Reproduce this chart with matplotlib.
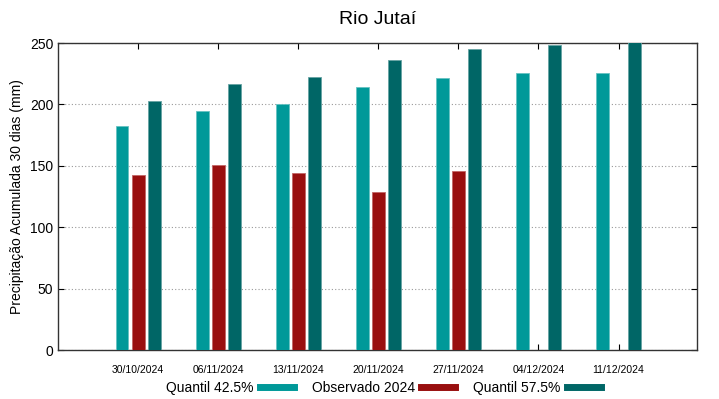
import numpy as np
import matplotlib.pyplot as plt
import matplotlib.transforms as mtransforms
from matplotlib.lines import Line2D

plt.rcParams['font.family'] = ['Liberation Sans', 'DejaVu Sans']

datas = ['30/10/2024', '06/11/2024', '13/11/2024', '20/11/2024',
         '27/11/2024', '04/12/2024', '11/12/2024']
q425 = [182.5, 194.5, 200.5, 214, 221.5, 225.5, 225.5]
observado = [142.5, 151, 144, 128.5, 146, np.nan, np.nan]
q575 = [203, 216.5, 222.5, 236, 245, 248.5, 252]

cor_q425 = '#009999'
cor_obs = '#990f0f'
cor_q575 = '#006666'

x = np.arange(len(datas))
w = 0.16

fig = plt.figure(figsize=(7.19, 3.99), dpi=100)
ax = fig.add_axes([0.0807, 0.1228, 0.8887, 0.7694])

ax.bar(x - 0.2, q425, w, color=cor_q425, edgecolor='#66c2c2', linewidth=0.6, zorder=3)
ax.bar(x, observado, w, color=cor_obs, edgecolor='#c26666', linewidth=0.6, zorder=3)
ax.bar(x + 0.2, q575, w, color=cor_q575, edgecolor='#66a3a3', linewidth=0.6, zorder=3)

ax.set_xlim(-1.0, 6.98)
ax.set_ylim(0, 250)
ax.set_xticks(x)
ax.set_xticklabels(datas, fontsize=7.5)
# gnuplot puts the date labels a little to the right of the tick
offset = mtransforms.ScaledTranslation(3 / 100, 0, fig.dpi_scale_trans)
for lbl in ax.get_xticklabels():
    lbl.set_transform(lbl.get_transform() + offset)
ax.set_yticks(np.arange(0, 251, 50))
ax.tick_params(axis='y', labelsize=10, direction='in', right=True, length=4, width=0.8)
ax.tick_params(axis='x', direction='in', top=True, length=4, width=0.8, pad=11)
ax.yaxis.grid(True, linestyle=(0, (1, 2)), color='#999999', linewidth=0.8, zorder=0)
for s in ax.spines.values():
    s.set_linewidth(1.0)
    s.set_color('#333333')

ax.set_ylabel('Precipitação Acumulada 30 dias (mm)', fontsize=10)
ax.set_title('Rio Jutaí', fontsize=14, pad=14)

handles = [Line2D([], [], color=c, lw=5) for c in (cor_q425, cor_obs, cor_q575)]
labels = ['Quantil 42.5%', 'Observado 2024', 'Quantil 57.5%']
fig.legend(handles, labels, loc='lower center', bbox_to_anchor=(0.533, -0.022), ncol=3,
           frameon=False, markerfirst=False, handlelength=2.45, columnspacing=1.3,
           handletextpad=0.45, fontsize=10)

fig.savefig('out.png', dpi=100)
